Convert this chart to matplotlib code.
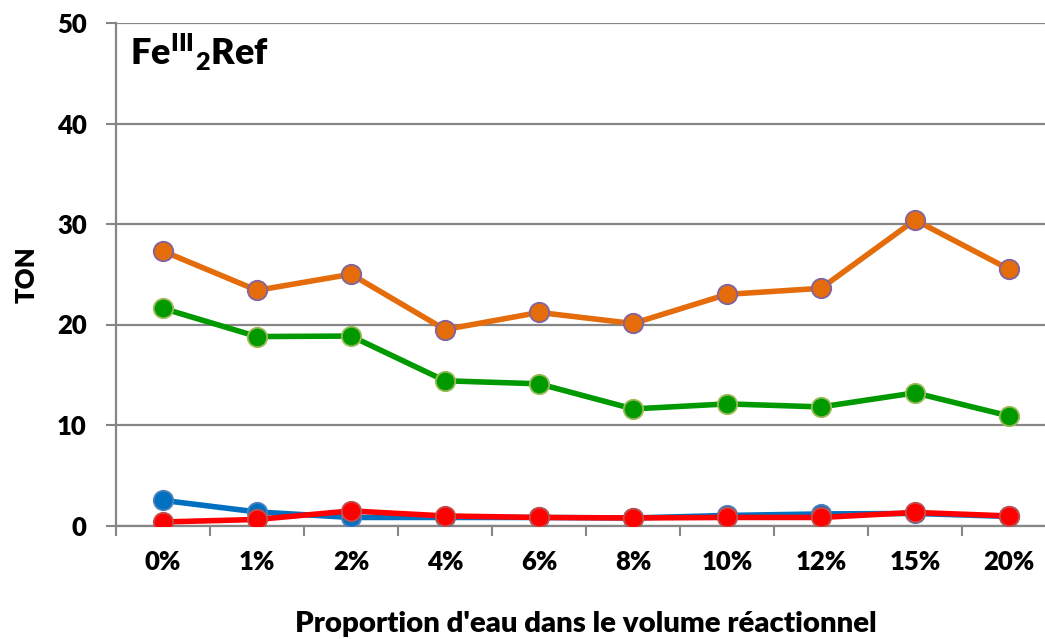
import matplotlib
matplotlib.use("Agg")
import matplotlib.pyplot as plt
import numpy as np

categories = ["0%", "1%", "2%", "4%", "6%", "8%", "10%", "12%", "15%", "20%"]
ton_orange = [27.3, 23.4, 25.0, 19.5, 21.2, 20.1, 23.0, 23.6, 30.4, 25.5]
ton_green = [21.6, 18.8, 18.85, 14.4, 14.1, 11.6, 12.1, 11.8, 13.2, 10.9]
ton_blue = [2.5, 1.35, 0.8, 0.8, 0.8, 0.75, 1.0, 1.15, 1.2, 0.9]
ton_red = [0.35, 0.6, 1.45, 0.95, 0.8, 0.75, 0.8, 0.8, 1.3, 0.95]
y_ticks = [0, 10, 20, 30, 40, 50]

plt.rcParams["font.family"] = ["Lato", "DejaVu Sans"]
plt.rcParams["mathtext.fontset"] = "custom"
plt.rcParams["mathtext.bf"] = "Lato:heavy"
plt.rcParams["mathtext.rm"] = "Lato:heavy"
weight = "heavy"

fig = plt.figure(figsize=(10.45, 6.39), dpi=100)
ax = fig.add_axes([116 / 1045, 1 - 525.5 / 639, 940 / 1045, 502.5 / 639])

x = np.arange(len(categories))
grid_col = "#868686"

series = [
    (ton_blue, "#0070C0", "#4F81BD"),
    (ton_red, "#FF0000", "#C0504D"),
    (ton_green, "#009900", "#9BBB59"),
    (ton_orange, "#E46C0A", "#8064A2"),
]
for vals, col, edge in series:
    ax.plot(x, vals, color=col, lw=4.0, marker="o", ms=14, mfc=col,
            mec=edge, mew=1.3, zorder=3, solid_capstyle="round")

ax.set_xlim(-0.5, len(categories) - 0.5)
ax.set_ylim(0, 50)
ax.set_yticks(y_ticks)
ax.set_yticklabels([str(v) for v in y_ticks], fontsize=18.5, fontweight=weight)
ax.yaxis.grid(True, color=grid_col, lw=1.6)
ax.set_axisbelow(True)

ax.set_xticks(np.arange(-0.5, len(categories) + 0.5, 1.0))
ax.set_xticklabels([])
ax.set_xticks(x, minor=True)
ax.set_xticklabels(categories, minor=True, fontsize=18.5, fontweight=weight)
ax.tick_params(axis="x", which="major", direction="out", length=7, width=1.5,
               color=grid_col)
ax.tick_params(axis="x", which="minor", length=0, pad=18)
ax.tick_params(axis="y", direction="out", length=7, width=1.5, color=grid_col,
               pad=14)

for side in ["top", "right"]:
    ax.spines[side].set_visible(False)
for side in ["left", "bottom"]:
    ax.spines[side].set_color(grid_col)
    ax.spines[side].set_linewidth(1.6)

ax.set_ylabel("TON", fontsize=18.5, fontweight=weight, labelpad=13)
ax.set_xlabel("Proportion d'eau dans le volume réactionnel", fontsize=21.2,
              fontweight=weight, labelpad=26)

ax.text(130, 574, r"$\mathbf{Fe^{III}{}_{2}Ref}$", transform=None,
        fontsize=26, ha="left", va="baseline")

fig.savefig("out.png", dpi=100)
